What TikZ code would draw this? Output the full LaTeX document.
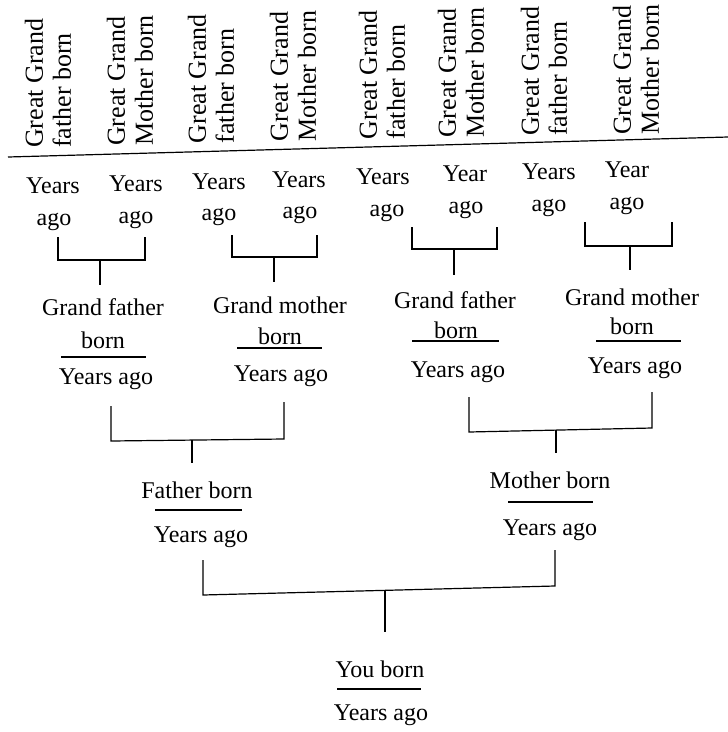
\documentclass[tikz,border=0pt]{standalone}
\usepackage{fontspec}
\setmainfont{Liberation Serif}
\begin{document}
\begin{tikzpicture}[x=1pt,y=-1pt,
  lbl/.style={font=\fontsize{24}{28}\selectfont, inner sep=0pt, anchor=base},
  rot/.style={font=\fontsize{26}{28}\selectfont, rotate=90, anchor=west, align=left, inner sep=0pt},
  ln/.style={line width=1.2pt}]
\useasboundingbox (0,0) rectangle (728,732);

% top line
\coordinate (tl) at (8,157);
\coordinate (tr) at (728,137);
\draw[ln] (tl) -- (tr);

% rotated great-grandparents
\node[rot] (gg1) at (48,148)   {Great Grand\\father born};
\node[rot] (gg2) at (130,146)  {Great Grand\\Mother born};
\node[rot] (gg3) at (211,143.6){Great Grand\\father born};
\node[rot] (gg4) at (293,141.4){Great Grand\\Mother born};
\node[rot] (gg5) at (382,139.5){Great Grand\\father born};
\node[rot] (gg6) at (461,138)  {Great Grand\\Mother born};
\node[rot] (gg7) at (544,136)  {Great Grand\\father born};
\node[rot] (gg8) at (636,135)  {Great Grand\\Mother born};

% years ago row
\node[lbl] (y1) at (53,193)   {Years}; \node[lbl] (a1) at (54,225)   {ago};
\node[lbl] (y2) at (136,191)  {Years}; \node[lbl] (a2) at (136,223)  {ago};
\node[lbl] (y3) at (219,189)  {Years}; \node[lbl] (a3) at (219,220)  {ago};
\node[lbl] (y4) at (299,187)  {Years}; \node[lbl] (a4) at (300,218)  {ago};
\node[lbl] (y5) at (383,184)  {Years}; \node[lbl] (a5) at (387,216)  {ago};
\node[lbl] (y6) at (465,181)  {Year};  \node[lbl] (a6) at (466,213)  {ago};
\node[lbl] (y7) at (549,179)  {Years}; \node[lbl] (a7) at (549,211)  {ago};
\node[lbl] (y8) at (627,177)  {Year};  \node[lbl] (a8) at (627,209)  {ago};

% grandparents
\node[lbl] (gf1) at (103,315) {Grand father};
\node[lbl] (gf1b) at (103,348) {born};
\node[lbl] (gf1y) at (106,384) {Years ago};
\coordinate (gf1u1) at (61,357); \coordinate (gf1u2) at (146,357);
\draw[ln] (gf1u1) -- (gf1u2);

\node[lbl] (gm1) at (280,313) {Grand mother};
\node[lbl] (gm1b) at (280,344) {born};
\node[lbl] (gm1y) at (281,381) {Years ago};
\coordinate (gm1u1) at (237,348); \coordinate (gm1u2) at (322,348);
\draw[ln] (gm1u1) -- (gm1u2);

\node[lbl] (gf2) at (455,308) {Grand father};
\node[lbl] (gf2b) at (456,338) {born};
\node[lbl] (gf2y) at (458,377) {Years ago};
\coordinate (gf2u1) at (412,341); \coordinate (gf2u2) at (499,341);
\draw[ln] (gf2u1) -- (gf2u2);

\node[lbl] (gm2) at (632,305) {Grand mother};
\node[lbl] (gm2b) at (632,334) {born};
\node[lbl] (gm2y) at (635,373) {Years ago};
\coordinate (gm2u1) at (596,341); \coordinate (gm2u2) at (681,341);
\draw[ln] (gm2u1) -- (gm2u2);

% parents
\node[lbl] (fa) at (197,498) {Father born};
\node[lbl] (fay) at (201,542) {Years ago};
\coordinate (fau1) at (155,510); \coordinate (fau2) at (242,510);
\draw[ln] (fau1) -- (fau2);

\node[lbl] (mo) at (550,488) {Mother born};
\node[lbl] (moy) at (550,535) {Years ago};
\coordinate (mou1) at (508,502); \coordinate (mou2) at (593,502);
\draw[ln] (mou1) -- (mou2);

% you
\node[lbl] (you) at (380,677) {You born};
\node[lbl] (youy) at (381,720) {Years ago};
\coordinate (youu1) at (337,689); \coordinate (youu2) at (421,689);
\draw[ln] (youu1) -- (youu2);

% brackets row 1
\coordinate (b1a) at (58,237);  \coordinate (b1b) at (58,260);
\coordinate (b1c) at (145,260); \coordinate (b1d) at (145,237);
\coordinate (b1s) at (100,260); \coordinate (b1e) at (100,285);
\draw[ln] (b1a) -- (b1b) -- (b1c) -- (b1d);
\draw[ln] (b1s) -- (b1e);

\coordinate (b2a) at (232,235); \coordinate (b2b) at (232,257);
\coordinate (b2c) at (317,257); \coordinate (b2d) at (317,235);
\coordinate (b2s) at (274,257); \coordinate (b2e) at (274,282);
\draw[ln] (b2a) -- (b2b) -- (b2c) -- (b2d);
\draw[ln] (b2s) -- (b2e);

\coordinate (b3a) at (412,227); \coordinate (b3b) at (412,249);
\coordinate (b3c) at (497,249); \coordinate (b3d) at (497,227);
\coordinate (b3s) at (454,249); \coordinate (b3e) at (454,275);
\draw[ln] (b3a) -- (b3b) -- (b3c) -- (b3d);
\draw[ln] (b3s) -- (b3e);

\coordinate (b4a) at (585,222); \coordinate (b4b) at (585,246);
\coordinate (b4c) at (672,246); \coordinate (b4d) at (672,222);
\coordinate (b4s) at (630,246); \coordinate (b4e) at (630,270);
\draw[ln] (b4a) -- (b4b) -- (b4c) -- (b4d);
\draw[ln] (b4s) -- (b4e);

% brackets row 2
\coordinate (b5a) at (111,406); \coordinate (b5b) at (111,441);
\coordinate (b5c) at (284,439); \coordinate (b5d) at (284,402);
\coordinate (b5s) at (192,440); \coordinate (b5e) at (192,463);
\draw[ln] (b5a) -- (b5b) -- (b5c) -- (b5d);
\draw[ln] (b5s) -- (b5e);

\coordinate (b6a) at (469,397); \coordinate (b6b) at (469,432);
\coordinate (b6c) at (652,428); \coordinate (b6d) at (652,392);
\coordinate (b6s) at (556,430); \coordinate (b6e) at (556,453);
\draw[ln] (b6a) -- (b6b) -- (b6c) -- (b6d);
\draw[ln] (b6s) -- (b6e);

% bottom bracket
\coordinate (b7a) at (203,560); \coordinate (b7b) at (203,595);
\coordinate (b7c) at (555,586); \coordinate (b7d) at (555,550);
\coordinate (b7s) at (385,590); \coordinate (b7e) at (385,632);
\draw[ln] (b7a) -- (b7b) -- (b7c) -- (b7d);
\draw[ln] (b7s) -- (b7e);
\end{tikzpicture}
\end{document}
